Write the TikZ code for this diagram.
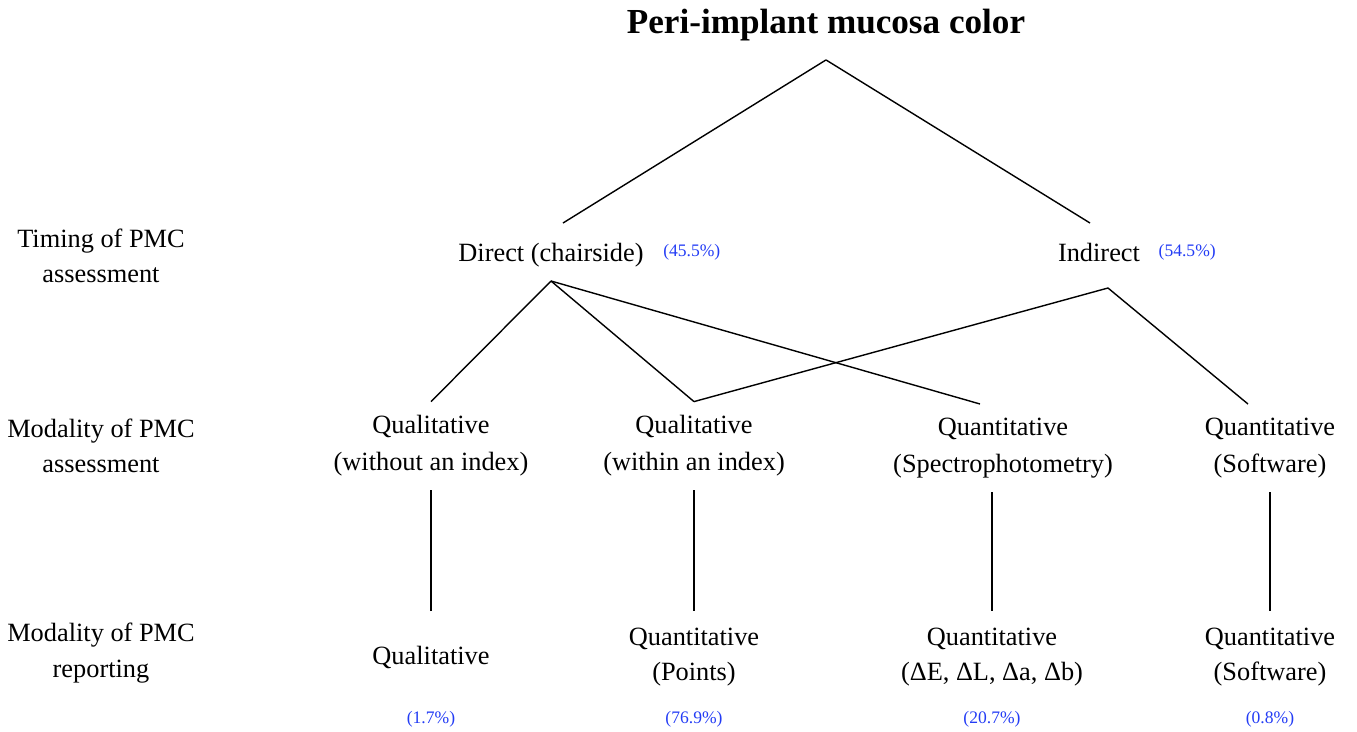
\documentclass[tikz,border=0pt]{standalone}
\usepackage{fontspec}
\setmainfont{Liberation Serif}
\usetikzlibrary{positioning}
\definecolor{pctblue}{RGB}{35,60,245}
\tikzset{
  heading/.style={font=\fontsize{20}{24}\selectfont\bfseries, inner sep=0pt, outer ysep=3.8mm},
  rowlabel/.style={align=center, font=\fontsize{15}{20}\selectfont, inner sep=0pt},
  timing/.style={font=\fontsize{15}{20}\selectfont, inner sep=0pt, text height=3.6mm, text depth=0pt, outer ysep=4mm},
  modality/.style={align=center, font=\fontsize{15}{21}\selectfont, inner sep=0pt, outer ysep=2.8mm},
  report/.style={align=center, font=\fontsize{15}{20}\selectfont, inner sep=0pt, minimum height=11.6mm, outer ysep=3.4mm},
  pct/.style={font=\fontsize{10}{12}\selectfont, text=pctblue, inner sep=0pt},
  branch/.style={line width=0.8pt}
}
\begin{document}
\begin{tikzpicture}[x=0.02cm, y=-0.02cm]
  \useasboundingbox (0,0) rectangle (1357,731);
  \node[heading] (pmc) at (826,25) {Peri-implant mucosa color};
  % row labels on the left
  \node[rowlabel] (lbltiming) at (101,256) {Timing of PMC\\assessment};
  \node[rowlabel] (lblassess) at (101,446) {Modality of PMC\\assessment};
  \node[rowlabel] (lblreport) at (101,653) {Modality of PMC\\reporting};
  % timing
  \node[timing] (direct) at (551,252) {Direct (chairside)};
  \node[timing] (indirect) at (1099,252) {Indirect};
  \node[pct, right=3.8mm of direct] (pdirect) {(45.5\%)};
  \node[pct, right=3.6mm of indirect] (pindirect) {(54.5\%)};
  % modality of assessment
  \node[modality] (qwo) at (431,446) {Qualitative\\(without an index)};
  \node[modality] (qwi) at (694,446) {Qualitative\\(within an index)};
  \node[modality] (qsp) at (1003,448) {Quantitative\\(Spectrophotometry)};
  \node[modality] (qsw) at (1270,448) {Quantitative\\(Software)};
  % modality of reporting
  \node[report] (rqual) at (431,657) {Qualitative};
  \node[report] (rpts) at (694,657) {Quantitative\\(Points)};
  \node[report] (rdelta) at (992,657) {Quantitative\\(ΔE, ΔL, Δa, Δb)};
  \node[report] (rsw) at (1270,657) {Quantitative\\(Software)};
  \foreach \nd/\pv in {rqual/1.7, rpts/76.9, rdelta/20.7, rsw/0.8}
    \node[pct] (p\nd) at (\nd.center |- 0,719) {(\pv\%)};
  % branches
  \draw[branch] (pmc.south) -- ([xshift=2.4mm]direct.north);
  \draw[branch] (pmc.south) -- ([xshift=-1.8mm]indirect.north);
  \draw[branch] (direct.south) -- (qwo.north);
  \draw[branch] (direct.south) -- (qwi.north);
  \draw[branch] (direct.south) -- ([xshift=-4.6mm]qsp.north);
  \draw[branch] ([xshift=1.8mm,yshift=-1.4mm]indirect.south) -- (qwi.north);
  \draw[branch] ([xshift=1.8mm,yshift=-1.4mm]indirect.south) -- ([xshift=-4.4mm]qsw.north);
  \foreach \up/\dn in {qwo/rqual, qwi/rpts, qsp/rdelta, qsw/rsw}
    \draw[branch] (\dn.north) -- (\dn.north |- \up.south);
\end{tikzpicture}
\end{document}
